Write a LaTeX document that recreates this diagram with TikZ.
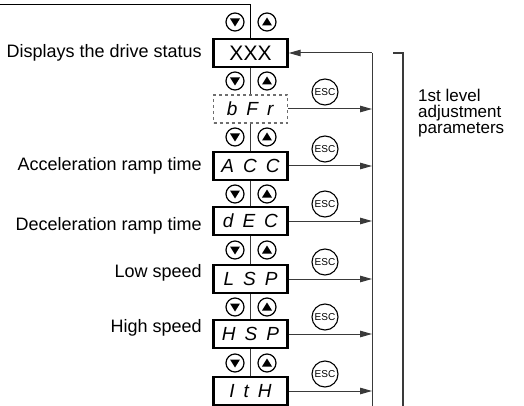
\documentclass[tikz,border=0pt]{standalone}
\usepackage{fontspec}
\setmainfont{Liberation Sans}
\usetikzlibrary{positioning,arrows.meta}
\definecolor{wire}{HTML}{3A3A3A}
\definecolor{dash}{HTML}{6E6E6E}
\newcommand{\lcd}[3]{\textit{#1\hspace{9pt}#2\hspace{9pt}#3}}

\begin{document}
\begin{tikzpicture}[x=1pt,y=-1pt,font=\fontsize{18}{20}\selectfont,
  disp/.style={draw,line width=2.4pt,minimum width=74pt,minimum height=28pt,inner sep=0pt,font=\fontsize{19}{20}\selectfont},
  keybase/.style={draw,circle,line width=1.2pt,minimum size=18pt,inner sep=0pt},
  keydn/.style={keybase,path picture={\fill (path picture bounding box.center) ++(-5,-3.5) -- ++(10,0) -- ++(-5,8) -- cycle;}},
  keyup/.style={keybase,path picture={\fill (path picture bounding box.center) ++(-5,3.5) -- ++(10,0) -- ++(-5,-8) -- cycle;}},
  esc/.style={draw,circle,line width=1.1pt,minimum size=26pt,inner sep=0pt,font=\fontsize{10}{10}\selectfont},
  link/.style={wire,line width=1pt},
  tip/.style={-{Triangle[length=12pt,width=6.5pt]}}]
\useasboundingbox (0,0) rectangle (524,406);
% display boxes
\node[disp,font=\fontsize{21}{20}\selectfont] (xxx) at (250.5,53) {XXX};
\node[draw=dash,dashed,line width=1.1pt,minimum width=74pt,minimum height=28pt,inner sep=0pt,font=\fontsize{19}{20}\selectfont] (bfr) at (250.5,109) {\lcd bFr};
\node[disp] (acc) at (250.5,166) {\lcd ACC};
\node[disp] (dec) at (250.5,221) {\lcd dEC};
\node[disp] (lsp) at (250.5,279) {\lcd LSP};
\node[disp] (hsp) at (250.5,334) {\lcd HSP};
\node[disp] (ith) at (250.5,391) {\lcd ItH};
% labels on the left
\node[left=7pt of xxx] (lblxxx) {Displays the drive status};
\node[left=7pt of acc] (lblacc) {Acceleration ramp time};
\node[left=7pt of dec,yshift=-5pt] (lbldec) {Deceleration ramp time};
\node[left=7pt of lsp,yshift=6pt] (lbllsp) {Low speed};
\node[left=7pt of hsp,yshift=6pt] (lblhsp) {High speed};
% up / down keys
\foreach \k/\y in {1/22,2/81,3/137,4/194,5/250,6/307,7/363}{
  \node[keydn] (dn\k) at (235,\y) {};
  \node[keyup] (up\k) at (267,\y) {};}
% vertical links between boxes
\coordinate (ltop) at (0,5);
\draw[link,black] (ltop) -| (xxx.north);
\foreach \a/\b in {xxx/bfr,bfr/acc,acc/dec,dec/lsp,lsp/hsp,hsp/ith}
  \draw[link] (\a.south) -- (\b.north);
% return line and ESC
\coordinate (rtop) at (372,53);
\coordinate (rbot) at (372,406);
\coordinate (escx) at (325,0);
\draw[link] (rbot) -- (rtop);
\draw[link,tip] (rtop) -- (xxx.east);
\foreach \n in {bfr,acc,dec,lsp,hsp,ith}{
  \draw[link,tip] (\n.east) -- (\n.east -| rtop);
  \path (escx |- \n.east) ++(0,-17) node[esc] (esc\n) {ESC};}
% bracket
\coordinate (btick) at (393,53);
\coordinate (btop) at (403,53);
\coordinate (bbot) at (403,406);
\draw[wire,line width=1.2pt] (btick) -- (btop) -- (bbot);
\node[align=left,anchor=north west,inner sep=0pt,font=\fontsize{17}{16}\selectfont] (lvl) at (418,89) {1st level\\adjustment\\parameters};
\end{tikzpicture}
\end{document}
